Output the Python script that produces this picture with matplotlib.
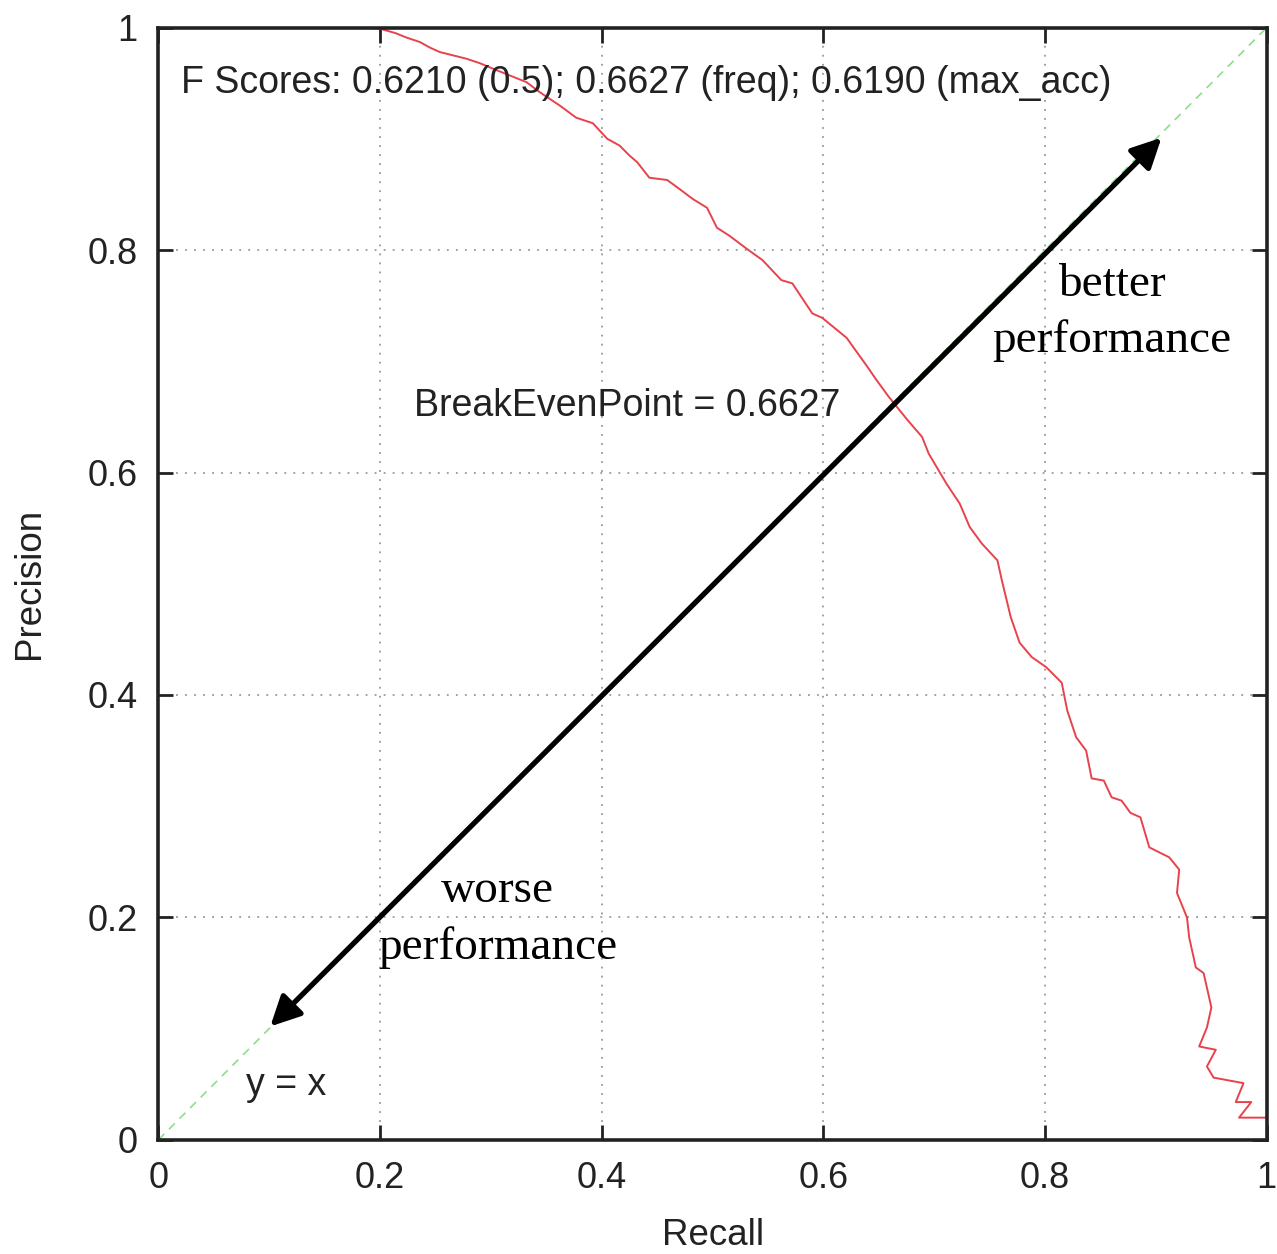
import matplotlib.pyplot as plt

# precision / recall points
recall = [0.170, 0.185, 0.200, 0.214, 0.224, 0.236, 0.245, 0.254, 0.266, 0.278,
          0.290, 0.302, 0.317, 0.332, 0.344, 0.362, 0.377, 0.392, 0.405, 0.416,
          0.425, 0.432, 0.443, 0.459, 0.470, 0.482, 0.495, 0.504, 0.515, 0.531,
          0.545, 0.562, 0.572, 0.590, 0.599, 0.621, 0.639,
          0.648, 0.659, 0.676, 0.689, 0.695, 0.711, 0.723, 0.732, 0.743, 0.757,
          0.761, 0.769, 0.777, 0.788, 0.801, 0.815, 0.820, 0.828, 0.837, 0.842,
          0.853, 0.860, 0.869, 0.877, 0.886, 0.894, 0.912, 0.921, 0.919, 0.928,
          0.930, 0.936, 0.943, 0.948, 0.950, 0.946, 0.939, 0.954, 0.946, 0.952,
          0.979, 0.972, 0.986, 0.975, 1.000]
precision = [1.000, 1.000, 0.999, 0.995, 0.991, 0.987, 0.982, 0.978, 0.975, 0.972,
             0.968, 0.963, 0.957, 0.951, 0.942, 0.930, 0.919, 0.914, 0.900, 0.894,
             0.885, 0.879, 0.865, 0.863, 0.855, 0.846, 0.838, 0.820, 0.813, 0.801,
             0.791, 0.773, 0.770, 0.743, 0.739, 0.721, 0.696,
             0.683, 0.668, 0.647, 0.632, 0.617, 0.590, 0.572, 0.551, 0.536, 0.521,
             0.503, 0.470, 0.447, 0.434, 0.425, 0.411, 0.386, 0.362, 0.350, 0.325,
             0.323, 0.308, 0.305, 0.294, 0.290, 0.263, 0.254, 0.243, 0.222, 0.200,
             0.182, 0.155, 0.150, 0.128, 0.119, 0.101, 0.084, 0.081, 0.066, 0.056,
             0.051, 0.034, 0.034, 0.020, 0.020]

ticks = [0, 0.2, 0.4, 0.6, 0.8, 1]
tick_labels = ['0', '0.2', '0.4', '0.6', '0.8', '1']

f_scores = 'F Scores: 0.6210 (0.5); 0.6627 (freq); 0.6190 (max_acc)'
break_even = 0.6627

plt.rcParams['font.family'] = ['Liberation Sans', 'DejaVu Sans']
fig = plt.figure(figsize=(12.77, 12.54), dpi=100)
ax = fig.add_axes([0.124, 0.091, 0.868, 0.887])

# y = x reference line
ax.plot([0, 1], [0, 1], color='#8fdc8f', lw=1.2, ls=(0, (5, 4)))
ax.plot(recall, precision, color='#e8424c', lw=1.4)

ax.set_xlim(0, 1)
ax.set_ylim(0, 1)
ax.set_xticks(ticks)
ax.set_xticklabels(tick_labels)
ax.set_yticks(ticks)
ax.set_yticklabels(tick_labels)
ax.grid(True, color='#999999', ls=(0, (1, 4)), lw=1.3)
ax.tick_params(direction='in', length=11, width=2, top=True, right=True,
               labelsize=26, colors='#222222', pad=15)
for s in ax.spines.values():
    s.set_linewidth(2.6)
    s.set_color('#222222')

ax.set_xlabel('Recall', fontsize=26.5, color='#222222', labelpad=16)
ax.set_ylabel('Precision', fontsize=26.5, color='#222222', labelpad=29)

ax.text(0.02, 0.950, f_scores, fontsize=27, color='#222222', va='center')
ax.text(0.231, 0.660, 'BreakEvenPoint = %.4f' % break_even, fontsize=27,
        color='#222222', va='center')
ax.text(0.079, 0.049, 'y = x', fontsize=27, color='#222222', va='center')

# double headed arrow along the diagonal
ax.annotate('', xy=(0.905, 0.901), xytext=(0.101, 0.102),
            arrowprops=dict(arrowstyle='<|-|>', color='black', lw=3.8,
                            mutation_scale=45, shrinkA=0, shrinkB=0))

serif = ['Liberation Serif', 'DejaVu Serif']
ax.text(0.86, 0.7435, 'better\nperformance', family=serif, fontsize=34,
        ha='center', va='center', linespacing=1.42)
ax.text(0.306, 0.1986, 'worse\nperformance', family=serif, fontsize=34,
        ha='center', va='center', linespacing=1.42)

fig.savefig('out.png', dpi=100)
